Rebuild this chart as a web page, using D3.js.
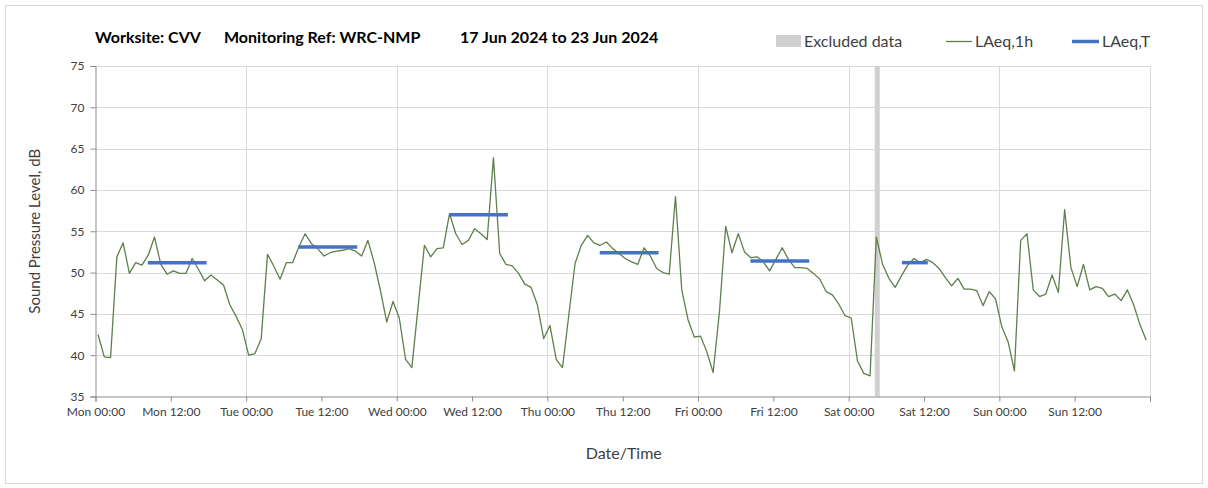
<!DOCTYPE html>
<html>
<head>
<meta charset="utf-8">
<script src="https://cdn.jsdelivr.net/npm/d3@7"></script>
<style>
  html, body { margin: 0; padding: 0; background: #ffffff; }
  svg { display: block; font-family: Lato, "Open Sans", sans-serif; }
</style>
</head>
<body>
<svg id="chart" width="1208" height="488"></svg>
<script>
// ---------------- DATA ----------------
const titleParts = ["Worksite: CVV", "Monitoring Ref: WRC-NMP", "17 Jun 2024 to 23 Jun 2024"];
const legendLabels = ["Excluded data", "LAeq,1h", "LAeq,T"];
const yTicks = [35, 40, 45, 50, 55, 60, 65, 70, 75];
const yLabel = "Sound Pressure Level, dB";
const xLabel = "Date/Time";

const periodStart = "2024-06-17T00:00";
const periodEnd = "2024-06-24T00:00";
const firstReading = "2024-06-17T00:24";   // hourly readings from here

const monValues = [42.5, 39.8, 39.7, 51.9, 53.6, 49.9, 51.2, 50.9, 52.1, 54.3, 51.0, 49.8, 50.2, 49.9, 49.9, 51.7, 50.4, 49.0, 49.7, 49.1, 48.5, 46.1, 44.7, 43.1];
const tueValues = [40.0, 40.2, 42.0, 52.2, 50.8, 49.2, 51.2, 51.2, 53.1, 54.7, 53.5, 52.9, 52.0, 52.4, 52.6, 52.7, 52.9, 52.6, 52.0, 53.9, 51.2, 47.8, 44.0, 46.5];
const wedValues = [44.5, 39.5, 38.5, 45.9, 53.3, 51.9, 52.9, 53.0, 57.1, 54.7, 53.4, 53.9, 55.3, 54.7, 54.0, 63.9, 52.3, 51.0, 50.8, 49.9, 48.6, 48.2, 46.1, 42.0];
const thuValues = [43.6, 39.5, 38.5, 44.8, 51.1, 53.3, 54.5, 53.6, 53.3, 53.7, 52.9, 52.3, 51.7, 51.3, 51.0, 53.0, 52.0, 50.5, 50.0, 49.8, 59.2, 47.9, 44.3, 42.2];
const friValues = [42.3, 40.4, 37.9, 45.2, 55.6, 52.4, 54.7, 52.5, 51.8, 51.9, 51.3, 50.2, 51.6, 53.0, 51.6, 50.6, 50.6, 50.5, 49.9, 49.2, 47.7, 47.3, 46.2, 44.8];
const satValues = [44.5, 39.3, 37.8, 37.5, 54.3, 51.0, 49.3, 48.2, 49.6, 50.9, 51.7, 51.2, 51.6, 51.2, 50.5, 49.4, 48.4, 49.3, 48.0, 48.0, 47.8, 46.0, 47.7, 46.8];
const sunValues = [43.4, 41.6, 38.1, 53.9, 54.7, 47.9, 47.1, 47.4, 49.7, 47.6, 57.6, 50.6, 48.3, 51.0, 47.9, 48.3, 48.1, 47.1, 47.4, 46.6, 47.9, 46.1, 43.7, 41.8];

// LAeq,T periods (daytime) and values
const ltStarts = ["2024-06-17T08:20", "2024-06-18T08:20", "2024-06-19T08:20", "2024-06-20T08:20", "2024-06-21T08:20", "2024-06-22T08:28"];
const ltEnds   = ["2024-06-17T17:42", "2024-06-18T17:42", "2024-06-19T17:42", "2024-06-20T17:42", "2024-06-21T17:42", "2024-06-22T12:36"];
const ltValues = [51.2, 53.1, 57.0, 52.4, 51.4, 51.2];

// Excluded data period
const excludedStarts = ["2024-06-22T04:09"];
const excludedEnds   = ["2024-06-22T04:57"];

// ---------------- DRAW ----------------
const parse = d3.timeParse("%Y-%m-%dT%H:%M");
const plot = { left: 95.5, right: 1150, top: 66, bottom: 396.5 };

const svg = d3.select("#chart");

// outer frame
svg.append("rect").attr("x", 5.5).attr("y", 5.5).attr("width", 1197).attr("height", 478)
  .attr("fill", "#fff").attr("stroke", "#d9d9d9").attr("stroke-width", 1);

const x = d3.scaleTime().domain([parse(periodStart), parse(periodEnd)]).range([plot.left, plot.right]);
const y = d3.scaleLinear().domain([35, 75]).range([plot.bottom, plot.top]);

const allValues = [].concat(monValues, tueValues, wedValues, thuValues, friValues, satValues, sunValues);
const t0 = parse(firstReading);
const series = allValues.map((v, i) => ({ t: d3.timeHour.offset(t0, i), v }));

// horizontal gridlines
svg.append("g").selectAll("line").data(yTicks.slice(1)).join("line")
  .attr("x1", plot.left).attr("x2", plot.right)
  .attr("y1", d => Math.round(y(d)) + 0.5).attr("y2", d => Math.round(y(d)) + 0.5)
  .attr("stroke", "#d9d9d9").attr("stroke-width", 1);

// vertical gridlines at day boundaries
const dayTicks = d3.timeDay.range(parse(periodStart), d3.timeHour.offset(parse(periodEnd), 1));
svg.append("g").selectAll("line").data(dayTicks.slice(1)).join("line")
  .attr("x1", d => Math.round(x(d)) + 0.5).attr("x2", d => Math.round(x(d)) + 0.5)
  .attr("y1", plot.top).attr("y2", plot.bottom)
  .attr("stroke", "#d9d9d9").attr("stroke-width", 1);

// excluded data bars
svg.append("g").selectAll("rect").data(excludedStarts.map((s, i) => [parse(s), parse(excludedEnds[i])])).join("rect")
  .attr("x", d => x(d[0])).attr("width", d => x(d[1]) - x(d[0]))
  .attr("y", plot.top).attr("height", plot.bottom - plot.top)
  .attr("fill", "#d0d0d0");

// y axis
const yAxis = d3.axisLeft(y).tickValues(yTicks).tickSize(5).tickPadding(6);
const gy = svg.append("g").attr("transform", `translate(${plot.left},0)`).call(yAxis);
gy.select(".domain").attr("stroke", "#8c8c8c");
gy.selectAll(".tick line").attr("stroke", "#8c8c8c");
gy.selectAll(".tick text").attr("fill", "#404040").style("font-size", "12px")
  .style("font-family", "Lato, sans-serif");

// x axis
const xTickVals = d3.timeHour.every(12).range(parse(periodStart), d3.timeHour.offset(parse(periodEnd), 1));
const fmt = d3.timeFormat("%a %H:%M");
const xAxis = d3.axisBottom(x).tickValues(xTickVals).tickSize(5).tickPadding(6)
  .tickFormat(d => (+d === +parse(periodEnd)) ? "" : fmt(d));
const gx = svg.append("g").attr("transform", `translate(0,${plot.bottom})`).call(xAxis);
gx.select(".domain").attr("stroke", "#8c8c8c");
gx.selectAll(".tick line").attr("stroke", "#8c8c8c");
gx.selectAll(".tick text").attr("fill", "#404040").style("font-size", "12px")
  .style("font-family", "Lato, sans-serif");

// LAeq,1h line
const line = d3.line().x(d => x(d.t)).y(d => y(d.v));
svg.append("path").datum(series).attr("d", line)
  .attr("fill", "none").attr("stroke", "#5f7f4c").attr("stroke-width", 1.3)
  .attr("stroke-linejoin", "round");

// LAeq,T segments
svg.append("g").selectAll("line").data(ltValues.map((v, i) => ({ s: parse(ltStarts[i]), e: parse(ltEnds[i]), v }))).join("line")
  .attr("x1", d => x(d.s)).attr("x2", d => x(d.e))
  .attr("y1", d => y(d.v)).attr("y2", d => y(d.v))
  .attr("stroke", "#4472c4").attr("stroke-width", 3.5);

// title
const titleX = [95, 224, 460];
svg.append("g").selectAll("text").data(titleParts).join("text")
  .attr("x", (d, i) => titleX[i]).attr("y", 43)
  .attr("fill", "#000").style("font-size", "16px").style("font-weight", "bold")
  .style("font-family", "Lato, sans-serif")
  .text(d => d);

// legend
const lg = svg.append("g").style("font-size", "16px").style("font-family", "Lato, sans-serif");
lg.append("rect").attr("x", 776).attr("y", 35).attr("width", 25).attr("height", 12).attr("fill", "#d0d0d0");
lg.append("text").attr("x", 804).attr("y", 47).attr("fill", "#404040").text(legendLabels[0]);
lg.append("line").attr("x1", 946).attr("x2", 972).attr("y1", 41.5).attr("y2", 41.5)
  .attr("stroke", "#5f7f4c").attr("stroke-width", 1.3);
lg.append("text").attr("x", 975).attr("y", 47).attr("fill", "#404040").text(legendLabels[1]);
lg.append("line").attr("x1", 1072).attr("x2", 1099).attr("y1", 41.5).attr("y2", 41.5)
  .attr("stroke", "#4472c4").attr("stroke-width", 3.5);
lg.append("text").attr("x", 1102).attr("y", 47).attr("fill", "#404040").text(legendLabels[2]);

// axis titles
svg.append("text").attr("transform", `translate(40,${(plot.top + plot.bottom) / 2}) rotate(-90)`)
  .attr("text-anchor", "middle").attr("fill", "#404040")
  .style("font-size", "15px").style("font-family", "Lato, sans-serif").text(yLabel);
svg.append("text").attr("x", (plot.left + plot.right) / 2 + 1).attr("y", 459)
  .attr("text-anchor", "middle").attr("fill", "#404040")
  .style("font-size", "16px").style("font-family", "Lato, sans-serif").text(xLabel);
</script>
</body>
</html>
